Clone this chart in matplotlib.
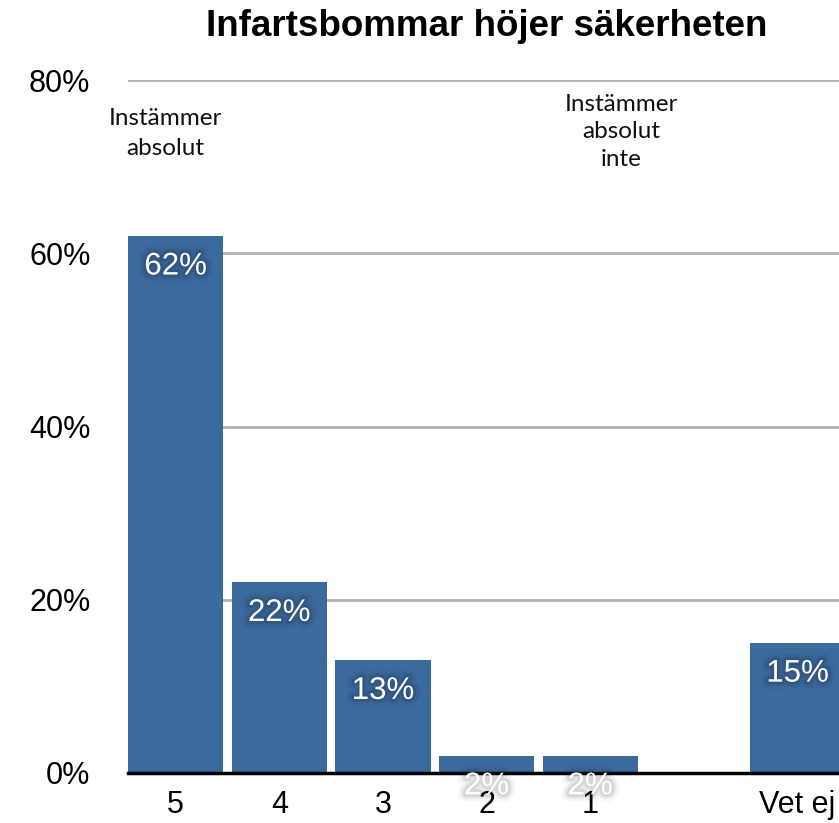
import numpy as np
import matplotlib
matplotlib.use('Agg')
import matplotlib.pyplot as plt
import matplotlib.patheffects as pe
from matplotlib.ticker import FuncFormatter

# Survey answers, 5 = agree completely ... 1 = disagree completely
categories = ['5', '4', '3', '2', '1', '', 'Vet ej']
shares = [62, 22, 13, 2, 2, np.nan, 15]
y_ticks = [0, 20, 40, 60, 80]

title = 'Infartsbommar höjer säkerheten'
note_top = 'Instämmer\nabsolut'
note_bottom = 'Instämmer\nabsolut\ninte'

bar_color = '#3b6a9c'
tick_font = 'Liberation Sans'
note_font = 'Lato'

fig = plt.figure(figsize=(8.39, 8.23), dpi=100)
ax = fig.add_axes([128 / 839, 50 / 823, 711 / 839, 693 / 823])

x = np.arange(len(categories))
ax.bar(x, shares, width=0.92, color=bar_color, zorder=3)

# soft dark glow behind the white value labels
glow = [pe.Stroke(linewidth=11, foreground='black', alpha=0.03),
        pe.Stroke(linewidth=7, foreground='black', alpha=0.05),
        pe.Stroke(linewidth=4, foreground='black', alpha=0.08),
        pe.Normal()]
for xi, v in zip(x, shares):
    if np.isnan(v):
        continue
    ax.annotate('%d%%' % v, (xi, v), xytext=(0, -22), textcoords='offset points',
                ha='center', va='center', color='white', fontsize=22.5,
                family=tick_font, zorder=5, path_effects=glow,
                annotation_clip=False)

ax.set_xlim(-0.46, 6.40)
ax.set_ylim(0, 80)
ax.set_xticks(x)
ax.set_xticklabels(categories)
ax.set_yticks(y_ticks)
ax.yaxis.set_major_formatter(FuncFormatter(lambda v, p: '%d%%' % v))
ax.tick_params(axis='both', length=0, labelsize=22)
ax.tick_params(axis='x', pad=12)
ax.tick_params(axis='y', pad=27)
for lab in ax.get_xticklabels() + ax.get_yticklabels():
    lab.set_family(tick_font)

ax.grid(axis='y', color='#b0b0b0', linewidth=2, zorder=1)
for s in ['top', 'right', 'left']:
    ax.spines[s].set_visible(False)
ax.spines['bottom'].set_linewidth(2.5)
ax.spines['bottom'].set_color('black')
ax.spines['bottom'].set_zorder(4)

ax.text(-0.1, 73.8, note_top, ha='center', va='center', fontsize=17.5,
        family=note_font, linespacing=1.55, color='#111111')
ax.text(4.3, 74.0, note_bottom, ha='center', va='center', fontsize=17.5,
        family=note_font, linespacing=1.4, color='#111111')

fig.text(487 / 839, 1 - 26 / 823, title, ha='center', va='center',
         fontsize=26.5, fontweight='bold', family=tick_font)

fig.savefig('out.png', dpi=100)
